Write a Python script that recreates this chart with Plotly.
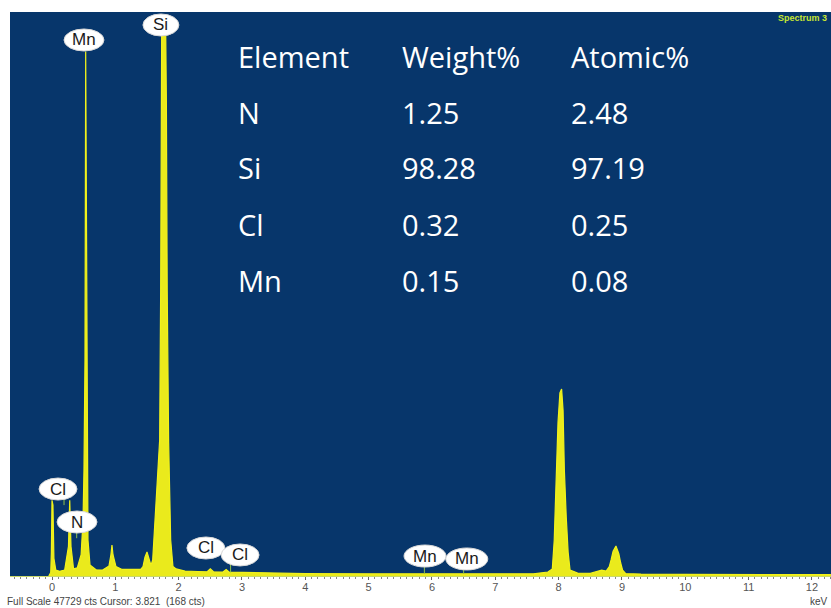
import plotly.graph_objects as go

# Spectrum: energy (keV) and counts
energy = [-0.05, -0.02, -0.01, 0.0, 0.015, 0.03, 0.06, 0.12, 0.2, 0.26, 0.28, 0.30, 0.34, 0.40, 0.46,
          0.490, 0.505, 0.521, 0.532, 0.542, 0.553, 0.568, 0.600, 0.70, 0.80, 0.90, 0.93, 0.947, 0.963, 1.01,
          1.10, 1.25, 1.40, 1.437, 1.468, 1.50, 1.53, 1.563, 1.59, 1.62, 1.66, 1.70, 1.716, 1.727, 1.732,
          1.795, 1.806, 1.819, 1.842, 1.874, 1.91, 1.96, 2.1, 2.3, 2.45, 2.5, 2.55, 2.7, 2.75, 2.8, 3.0,
          3.5, 4.0, 5.0, 6.0, 7.0, 7.6, 7.83, 7.90, 7.93, 7.96, 7.99, 8.02, 8.047, 8.07, 8.09, 8.12, 8.15,
          8.18, 8.3, 8.5, 8.62, 8.68, 8.75, 8.80, 8.83, 8.86, 8.905, 8.95, 8.98, 9.01, 9.06, 9.3, 10.0,
          11.0, 12.3]
counts = [0, 300, 2000, 6400, 6000, 1500, 500, 400, 500, 2500, 6400, 2500, 600, 700, 1800,
          4740, 8970, 18280, 44350, 31820, 10660, 3050, 930, 520, 500, 850, 1800, 2620, 1800, 800,
          560, 540, 560, 800, 1600, 2030, 1400, 900, 1350, 3900, 7280, 11500, 24200, 40280, 46200,
          46200, 40280, 24200, 11250, 3050, 800, 600, 420, 380, 360, 600, 360, 340, 550, 330, 300,
          230, 200, 180, 170, 170, 180, 340, 600, 3000, 8000, 13000, 15500, 15830, 14000, 9000, 5000, 2000,
          500, 250, 220, 420, 500, 420, 800, 1400, 2100, 2540, 1900, 1100, 500, 200, 160, 140,
          120, 110]

# Element marker labels (text, label energy, label counts, pointer energy, pointer end counts)
lbl_text = ["Mn", "Si", "Cl", "N", "Cl", "Cl", "Mn", "Mn"]
lbl_e = [0.505, 1.72, 0.095, 0.395, 2.43, 2.97, 5.89, 6.55]
lbl_c = [45360, 46630, 7360, 4570, 2370, 1780, 1690, 1440]
lbl_w = [40, 36, 38, 40, 38, 38, 42, 42]
ptr_e = [0.532, 1.75, 0.19, 0.39, 2.43, 2.82, 5.88, 6.50]
ptr_c = [44350, 46200, 6000, 3200, 1800, 300, 200, 200]

# Quantification table
tbl_header = ["Element", "Weight%", "Atomic%"]
tbl_elem = ["N", "Si", "Cl", "Mn"]
tbl_weight = ["1.25", "98.28", "0.32", "0.15"]
tbl_atomic = ["2.48", "97.19", "0.25", "0.08"]

x_ticks = list(range(0, 13))

W, H = 831, 608
ML, MR, MT, MB = 10, 0, 12, 32
PW, PH = W - ML - MR, H - MT - MB

def px_x(p):
    return (p - ML) / PW

def px_y(p):
    return (H - MB - p) / PH

fig = go.Figure()
fig.add_trace(go.Scatter(x=energy, y=counts, mode="lines", fill="tozeroy",
                         line=dict(color="#f2f21a", width=1.2), fillcolor="#eaea1c",
                         hoverinfo="skip", showlegend=False))

shapes = []
annotations = []
for t, e, c, w, pe, pc in zip(lbl_text, lbl_e, lbl_c, lbl_w, ptr_e, ptr_c):
    shapes.append(dict(type="line", xref="x", yref="y", x0=pe, x1=pe, y0=c, y1=pc,
                       line=dict(color="#8fbf4a", width=1)))
    shapes.append(dict(type="circle", xref="x", yref="y", xsizemode="pixel", ysizemode="pixel",
                       xanchor=e, yanchor=c, x0=-w / 2, x1=w / 2, y0=-11, y1=11,
                       fillcolor="white", line=dict(color="#d8d8d8", width=1)))
    annotations.append(dict(x=e, y=c, xref="x", yref="y", text=t, showarrow=False,
                            font=dict(family="Liberation Sans, Arial", size=17, color="#1a1a1a"),
                            xanchor="center", yanchor="middle"))

cols_x = [236, 400, 569]
rows_y = [57, 112, 168, 224, 280]
table_rows = [tbl_header] + [[a, b, c] for a, b, c in zip(tbl_elem, tbl_weight, tbl_atomic)]
for r, row in enumerate(table_rows):
    for cidx, txt in enumerate(row):
        annotations.append(dict(x=px_x(cols_x[cidx]), y=px_y(rows_y[r]), xref="paper", yref="paper",
                                text=txt, showarrow=False, xanchor="left", yanchor="middle",
                                font=dict(family="Open Sans", size=29, color="white")))

annotations.append(dict(x=px_x(829), y=px_y(18), xref="paper", yref="paper", text="<b>Spectrum 3</b>",
                        showarrow=False, xanchor="right", yanchor="middle",
                        font=dict(family="Liberation Sans, Arial", size=9, color="#c8e632")))
annotations.append(dict(x=px_x(5), y=px_y(601), xref="paper", yref="paper",
                        text="Full Scale 47729 cts Cursor: 3.821  (168 cts)", showarrow=False,
                        xanchor="left", yanchor="middle",
                        font=dict(family="Liberation Sans Narrow, Liberation Sans, Arial", size=10, color="#444444")))
annotations.append(dict(x=px_x(830), y=px_y(601), xref="paper", yref="paper", text="keV",
                        showarrow=False, xanchor="right", yanchor="middle",
                        font=dict(family="Liberation Sans Narrow, Liberation Sans, Arial", size=10, color="#444444")))

fig.update_layout(
    width=W, height=H, margin=dict(l=ML, r=MR, t=MT, b=MB),
    paper_bgcolor="white", plot_bgcolor="#07366b",
    shapes=shapes, annotations=annotations,
    xaxis=dict(range=[(ML - 52) / 63.33, (W - 52) / 63.33], tickvals=x_ticks,
               ticktext=[str(v) for v in x_ticks], showgrid=False, zeroline=False,
               showline=True, linecolor="#c9d86a", linewidth=1,
               ticks="outside", ticklen=3, tickcolor="#666666", ticklabelstandoff=-2,
               minor=dict(dtick=0.1, ticks="outside", ticklen=2, tickcolor="#888888"),
               tickfont=dict(family="Liberation Sans Narrow, Liberation Sans, Arial", size=11, color="#555555")),
    yaxis=dict(range=[0, 47729], visible=False),
)

fig.write_html("out.html")
